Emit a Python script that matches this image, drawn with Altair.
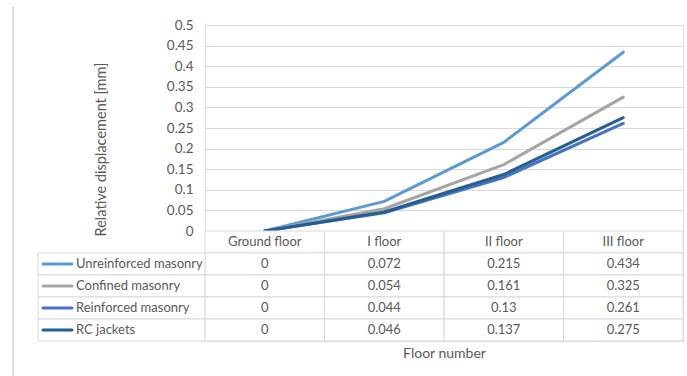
import altair as alt
import pandas as pd

# Storey drift values per retrofitting solution
floors = ["Ground floor", "I floor", "II floor", "III floor"]
series = ["Unreinforced masonry", "Confined masonry", "Reinforced masonry", "RC jackets"]
unreinforced = [0, 0.072, 0.215, 0.434]
confined = [0, 0.054, 0.161, 0.325]
reinforced = [0, 0.044, 0.13, 0.261]
rc_jackets = [0, 0.046, 0.137, 0.275]
colors = ["#5B9BD5", "#A5A5A5", "#4472C4", "#255E91"]
y_ticks = [0, 0.05, 0.1, 0.15, 0.2, 0.25, 0.3, 0.35, 0.4, 0.45, 0.5]

FONT = "Lato"
TXT = "#595959"
GRID = "#D9D9D9"

rows = []
for name, vals in zip(series, [unreinforced, confined, reinforced, rc_jackets]):
    for f, v in zip(floors, vals):
        rows.append({"series": name, "floor": f, "value": v, "label": f"{v:g}"})
df = pd.DataFrame(rows)
header_df = pd.DataFrame({"floor": floors, "row": ["header"] * len(floors)})
legend_df = pd.DataFrame({"series": series})

x_scale = alt.Scale(domain=floors, paddingInner=0, paddingOuter=0)
color_scale = alt.Scale(domain=series, range=colors)
table_rows = ["header"] + series
row_scale = alt.Scale(domain=table_rows, range=[206, 316], paddingInner=0, paddingOuter=0)

x_enc = alt.X("floor:N", scale=x_scale, sort=floors,
              axis=alt.Axis(labels=False, ticks=False, domain=False, title="Floor number",
                            titleFont=FONT, titleFontSize=14, titleFontWeight="normal",
                            titleColor=TXT, titlePadding=5))

lines = alt.Chart(df).mark_line(strokeWidth=3, strokeCap="round", strokeJoin="round").encode(
    x=x_enc,
    y=alt.Y("value:Q", scale=alt.Scale(domain=[0, 0.5], range=[206, 0], nice=False),
            axis=alt.Axis(values=y_ticks, format="~g", domain=False, ticks=False,
                          labelPadding=12, labelFont=FONT, labelFontSize=13.5, labelColor=TXT,
                          gridColor=GRID, gridWidth=1,
                          title="Relative displacement [mm]", titleFont=FONT, titleFontSize=14.5,
                          titleFontWeight="normal", titleColor=TXT, titleAngle=-90,
                          titleX=-104, titleY=124, titleAlign="center", titleBaseline="middle")),
    color=alt.Color("series:N", scale=color_scale, legend=None),
    order=alt.Order("floor_idx:Q"),
).transform_calculate(
    floor_idx="indexof(['Ground floor','I floor','II floor','III floor'], datum.floor)"
)

# Data table under the plot
row_y = lambda field: alt.Y(field, scale=row_scale, axis=None)

header_cells = alt.Chart(header_df).mark_rect(fill="white", stroke=GRID, strokeWidth=1).encode(
    x=alt.X("floor:N", scale=x_scale, sort=floors), y=row_y("row:N"))
header_text = alt.Chart(header_df).mark_text(font=FONT, fontSize=13, color=TXT).encode(
    x=alt.X("floor:N", scale=x_scale, sort=floors), y=row_y("row:N"), text="floor:N")

value_cells = alt.Chart(df).mark_rect(fill="white", stroke=GRID, strokeWidth=1).encode(
    x=alt.X("floor:N", scale=x_scale, sort=floors), y=row_y("series:N"))
value_text = alt.Chart(df).mark_text(font=FONT, fontSize=13, color=TXT).encode(
    x=alt.X("floor:N", scale=x_scale, sort=floors), y=row_y("series:N"), text="label:N")

legend_cells = alt.Chart(legend_df).mark_rect(fill="white", stroke=GRID, strokeWidth=1).encode(
    x=alt.value(-167), x2=alt.value(0), y=row_y("series:N"))
legend_swatch = alt.Chart(legend_df).mark_rule(strokeWidth=3, strokeCap="round").encode(
    x=alt.value(-162), x2=alt.value(-133), y=row_y("series:N"),
    color=alt.Color("series:N", scale=color_scale, legend=None))
legend_text = alt.Chart(legend_df).mark_text(font=FONT, fontSize=13, color=TXT, align="left").encode(
    x=alt.value(-129), y=row_y("series:N"), text="series:N")

frame = alt.Chart(legend_df).mark_rule(color=GRID, strokeWidth=1).encode(
    x=alt.value(-192), y=alt.value(-18), y2=alt.value(360))

table = alt.layer(header_cells, value_cells, legend_cells, header_text, value_text,
                  legend_swatch, legend_text)

chart = alt.layer(frame, lines, table).resolve_scale(y="independent").properties(
    width=478, height=316,
    autosize=alt.AutoSizeParams(type="none"),
    padding={"left": 205, "top": 25, "right": 4, "bottom": 35},
).configure_view(stroke=None).configure(background="white")

chart.save("out.html", embed_options={"renderer": "svg", "actions": False})
